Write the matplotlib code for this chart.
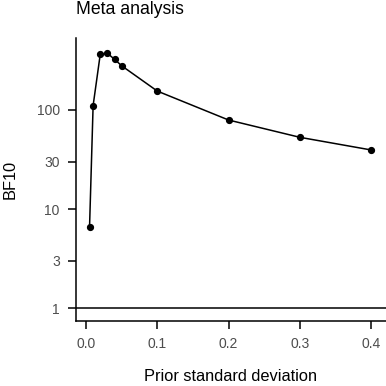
import numpy as np
import matplotlib
matplotlib.use("Agg")
import matplotlib.pyplot as plt
from matplotlib.ticker import FixedLocator, NullLocator

plt.rcParams['font.family'] = ['Liberation Sans', 'DejaVu Sans']

# prior standard deviation vs Bayes factor
prior_sd = [0.005, 0.01, 0.02, 0.03, 0.04, 0.05, 0.1, 0.2, 0.3, 0.4]
bf10 = [6.6, 110, 361, 370, 322, 277, 154, 78.7, 52.7, 39.3]

y_ticks = [1, 3, 10, 30, 100]
y_labels = ["1", "3", "10", "30", "100"]
x_ticks = [0.0, 0.1, 0.2, 0.3, 0.4]
x_labels = ["0.0", "0.1", "0.2", "0.3", "0.4"]

fig = plt.figure(figsize=(3.86, 3.86), dpi=100)
ax = fig.add_axes([75.5 / 386, 65 / 386, (386 - 75.5) / 386, (321 - 37.7) / 386])

ax.axhline(1, color="black", lw=1.1)
ax.plot(prior_sd, bf10, color="black", lw=1.1, marker="o", ms=4.2)

ax.set_yscale("log")
ax.set_xlim(-0.0147, 0.4207)
ax.set_ylim(0.745, 531)
ax.yaxis.set_major_locator(FixedLocator(y_ticks))
ax.yaxis.set_minor_locator(NullLocator())
ax.set_yticklabels(y_labels)
ax.set_xticks(x_ticks)
ax.set_xticklabels(x_labels)

for s in ["top", "right"]:
    ax.spines[s].set_visible(False)
for s in ["left", "bottom"]:
    ax.spines[s].set_linewidth(1.1)

ax.tick_params(axis="both", length=5.8, width=1.1, color="black",
               labelcolor="#4D4D4D", labelsize=10, pad=5.5)

ax.set_xlabel("Prior standard deviation", fontsize=11.8, labelpad=13)
ax.set_ylabel("BF10", fontsize=11.8, labelpad=14)
ax.set_title("Meta analysis", fontsize=12.7, loc="left", pad=17)

fig.savefig("out.png", dpi=100)
